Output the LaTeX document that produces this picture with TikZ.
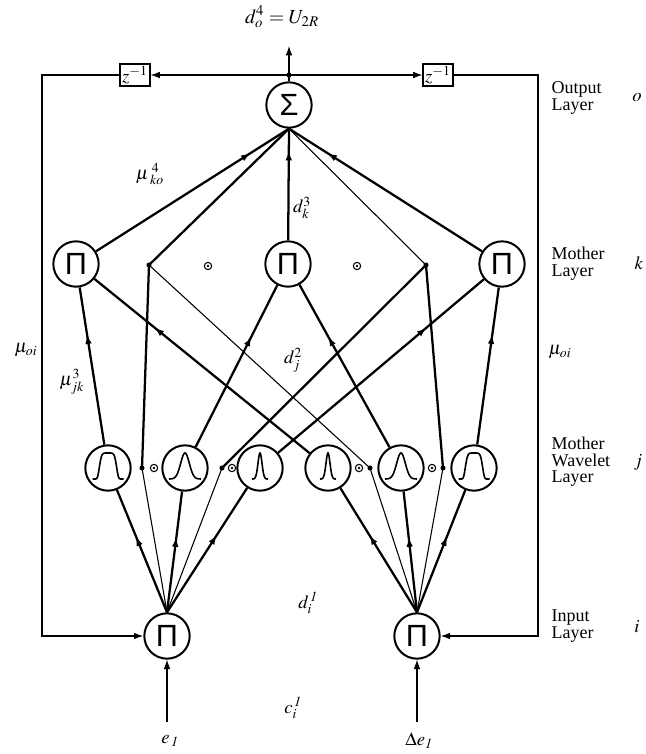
\documentclass[tikz,border=0pt]{standalone}
\usepackage{mathptmx}
\usepackage[no-math]{fontspec}
\setmainfont{Liberation Serif}
\newfontfamily\symsans{Liberation Sans}
\usetikzlibrary{arrows.meta,decorations.markings}
\begin{document}
\begin{tikzpicture}[x=0.75pt,y=-0.75pt,
  thk/.style={line width=1.7pt},
  thn/.style={line width=0.8pt},
  tip/.style={-{Latex[length=7pt,width=5pt]}},
  marr/.style={postaction={decorate},decoration={markings,mark=at position #1 with {\arrow{Latex[length=7pt,width=5pt]}}}},
  neuron/.style={circle,draw,line width=1.5pt,minimum size=34pt,inner sep=0pt},
  jdot/.style={circle,fill,inner sep=0pt,minimum size=3.8pt},
  ell/.style={circle,draw,line width=0.8pt,inner sep=0pt,minimum size=5.5pt,
     path picture={\fill (path picture bounding box.center) circle (1.3);}},
  zbox/.style={draw,line width=1.3pt,minimum width=22pt,minimum height=16pt,inner sep=0pt,font=\fontsize{14}{14}\selectfont},
  lab/.style={font=\fontsize{14}{15}\selectfont},
  layer/.style={align=left,anchor=west,font=\fontsize{13.5}{12.5}\selectfont},
  sym/.style={font=\symsans\fontsize{23}{23}\selectfont},
  waveA/.pic={\draw[line width=1.2pt] plot[domain=-15.5:15.5,samples=81,smooth] (\x,{11-26*exp(-1*pow(abs(\x)/9,6))});},
  waveB/.pic={\draw[line width=1.2pt] plot[domain=-16:16,samples=61,smooth] (\x,{11-26*exp(-1*(\x)*(\x)/(2*4.3*4.3))});},
  waveC/.pic={\draw[line width=1.2pt] plot[domain=-8:8,samples=61,smooth] (\x,{11-26*exp(-1*(\x)*(\x)/(2*2.0*2.0))});}
]
\useasboundingbox (0,0) rectangle (646,754);

% ---------- output layer ----------
\node[neuron,sym] (S) at (289,105) {Σ};
\node[jdot] (J) at (289,75) {};
\coordinate (OUTT) at (289,46);
\node[lab,font=\fontsize{15}{16}\selectfont] (OL) at (282,17) {$d_o^4 =U_{2R}$};
\node[zbox] (ZL) at (135,75) {$z^{-1}$};
\node[zbox] (ZR) at (438,75) {$z^{-1}$};
\draw[thn] (S) -- (J.center);
\draw[thn,tip] (J.center) -- (OUTT);
\draw[thn,tip] (J.center) -- (ZL);
\draw[thn,tip] (J.center) -- (ZR);

% ---------- mother layer ----------
\node[neuron,sym] (M1) at (76,264) {Π};
\node[neuron,sym] (M2) at (288,264) {Π};
\node[neuron,sym] (M3) at (502,264) {Π};
\node[jdot] (D1) at (149,265) {};
\node[jdot] (D2) at (426,265) {};
\node[ell] (E1) at (208,266) {};
\node[ell] (E2) at (357,266) {};

% ---------- wavelet layer ----------
\node[neuron] (W1) at (108,468) {};
\node[neuron] (W2) at (185,468) {};
\node[neuron] (W3) at (260,468) {};
\node[neuron] (W4) at (328,468) {};
\node[neuron] (W5) at (401,468) {};
\node[neuron] (W6) at (474,468) {};
\pic at (W1) {waveA};
\pic at (W2) {waveB};
\pic at (W3) {waveC};
\pic at (W4) {waveC};
\pic at (W5) {waveB};
\pic at (W6) {waveA};
\node[jdot] (DW1) at (142,468) {};
\node[jdot] (DW2) at (222,468) {};
\node[jdot] (DW3) at (370,468) {};
\node[jdot] (DW4) at (443,468) {};
\node[ell] (EW1) at (154,468) {};
\node[ell] (EW2) at (232,468) {};
\node[ell] (EW3) at (359,468) {};
\node[ell] (EW4) at (432,468) {};

% ---------- input layer ----------
\node[neuron,sym] (I1) at (167,636) {Π};
\node[neuron,sym] (I2) at (417,636) {Π};
\coordinate (IN1) at (167,722);
\coordinate (IN2) at (417,722);
\draw[thn,tip] (IN1) -- (I1);
\draw[thn,tip] (IN2) -- (I2);
\node[lab] (LE1) at (170,741) {$e_{\,\mathit{1}}$};
\node[lab] (LE2) at (419,741) {$\Delta e_{\mathit{1}}$};

% ---------- feedback loops ----------
\coordinate (LT) at (42,75);
\coordinate (LB) at (42,636);
\coordinate (RT) at (538,75);
\coordinate (RB) at (538,636);
\draw[line width=1pt,tip] (ZL) -- (LT) -- (LB) -- (I1);
\draw[line width=1pt,tip] (ZR) -- (RT) -- (RB) -- (I2);

% ---------- mother -> sum ----------
\draw[thk,marr=0.8] (M1) -- (S.south);
\draw[thk] (D1.center) -- (S.south);
\draw[thk,marr=0.8] (M2) -- (S.south);
\draw[thn] (D2.center) -- (S.south);
\draw[thk,marr=0.8] (M3) -- (S.south);

% ---------- wavelet -> mother ----------
\draw[thk,marr=0.7] (W1) -- (M1);
\draw[thk,marr=0.72] (W4) -- (M1);
\draw[thk,marr=0.68] (W2) -- (M2);
\draw[thk,marr=0.68] (W5) -- (M2);
\draw[thk,marr=0.72] (W3) -- (M3);
\draw[thk,marr=0.7] (W6) -- (M3);
\draw[thk] (D1.center) -- (DW1.center);
\draw[thn] (D1.center) -- (DW3.center);
\draw[thk] (D2.center) -- (DW2.center);
\draw[thk] (D2.center) -- (DW4.center);

% ---------- input -> wavelet ----------
\draw[thk,marr=0.62] (I1.north) -- (W1);
\draw[thn] (I1.north) -- (DW1.center);
\draw[thk,marr=0.62] (I1.north) -- (W2);
\draw[thn] (I1.north) -- (DW2.center);
\draw[thk,marr=0.62] (I1.north) -- (W3);
\draw[thk,marr=0.62] (I2.north) -- (W4);
\draw[thn] (I2.north) -- (DW3.center);
\draw[thk,marr=0.62] (I2.north) -- (W5);
\draw[thn] (I2.north) -- (DW4.center);
\draw[thk,marr=0.62] (I2.north) -- (W6);

% ---------- labels ----------
\node[lab] (Lko) at (150,174) {$\mu^{\;4}_{\;ko}$};
\node[lab] (Lk3) at (302,208) {$d_k^3$};
\node[lab] (Loi1) at (26,350) {$\mu_{oi}$};
\node[lab] (Loi2) at (560,352) {$\mu_{oi}$};
\node[lab] (Ljk) at (72,382) {$\mu^3_{jk}$};
\node[lab] (Lj2) at (293,360) {$d^2_j$};
\node[lab] (Li1) at (308,603) {$d_i^{\,\mathit{1}}$};
\node[lab] (Lc1) at (293,708) {$c_i^{\,\mathit{1}}$};

\node[layer] (TO) at (547,98) {Output\\Layer};
\node[lab] (To) at (637,98) {$o$};
\node[layer] (TK) at (547,264) {Mother\\Layer};
\node[lab] (Tk) at (639,263) {$k$};
\node[layer] (TJ) at (547,462) {Mother\\Wavelet\\Layer};
\node[lab] (Tj) at (638,462) {$j$};
\node[layer] (TI) at (547,626) {Input\\Layer};
\node[lab] (Ti) at (637,627) {$i$};
\end{tikzpicture}
\end{document}
